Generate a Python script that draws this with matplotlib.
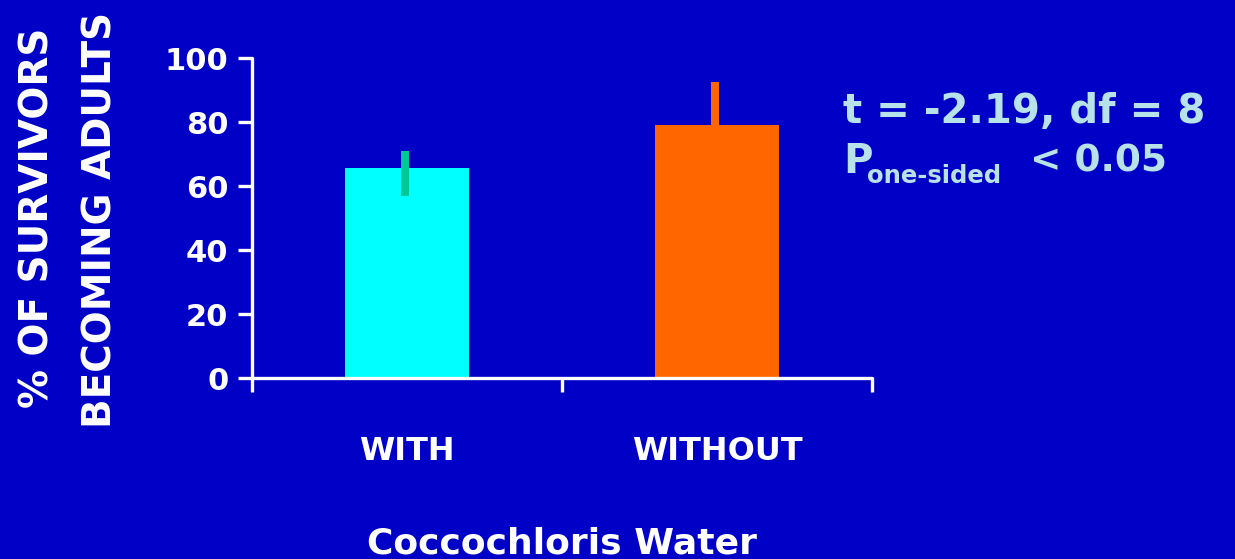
import matplotlib
matplotlib.use("Agg")
import matplotlib.pyplot as plt

# Data
categories = ["WITH", "WITHOUT"]
means = [65.5, 79.0]
err_low = [8.5, 13.5]
err_high = [5.5, 13.5]
bar_colors = ["#00ffff", "#ff6600"]
err_colors = ["#00c896", "#ff6600"]
yticks = [0, 20, 40, 60, 80, 100]

BG = "#0000c6"
FONT = "DejaVu Sans"
plt.rcParams["font.family"] = FONT
plt.rcParams["font.weight"] = "bold"

W, H = 1235, 559
fig = plt.figure(figsize=(W / 100, H / 100), dpi=100, facecolor=BG)
ax = fig.add_axes([252 / W, 1 - 378 / H, (872 - 252) / W, (378 - 58) / H])
ax.set_facecolor(BG)

x = list(range(len(categories)))
ax.bar(x, means, width=0.4, color=bar_colors, zorder=2)
for i in x:
    ax.errorbar(i - 0.008, means[i], yerr=[[err_low[i]], [err_high[i]]],
                fmt="none", ecolor=err_colors[i], elinewidth=5.8,
                capsize=0, zorder=3)

ax.set_xlim(-0.5, 1.5)
ax.set_ylim(0, 100)
ax.set_yticks(yticks)
ax.set_yticklabels([str(v) for v in yticks])
ax.set_xticks(x)
ax.set_xticklabels(categories)
ax.set_xticks([-0.5, 0.5, 1.5], minor=True)

for s in ("top", "right"):
    ax.spines[s].set_visible(False)
for s in ("left", "bottom"):
    ax.spines[s].set_color("white")
    ax.spines[s].set_linewidth(2.4)
    ax.spines[s].set_capstyle("round")

ax.tick_params(axis="y", colors="white", length=10, width=2.4, pad=7,
               labelsize=22)
ax.tick_params(axis="x", which="major", length=0, pad=42, colors="white",
               labelsize=23)
ax.tick_params(axis="x", which="minor", length=10, width=2.4, colors="white")
for lab in ax.get_xticklabels() + ax.get_yticklabels():
    lab.set_fontweight("bold")

# Axis titles
fig.text(38 / W, 1 - 218 / H, "% OF SURVIVORS", rotation=90, color="white",
         fontsize=28, fontweight="bold", ha="center", va="center")
fig.text(101 / W, 1 - 220 / H, "BECOMING ADULTS", rotation=90, color="white",
         fontsize=28, fontweight="bold", ha="center", va="center")
fig.text(562 / W, 1 - 543 / H, "Coccochloris Water", color="white",
         fontsize=26, fontweight="bold", ha="center", va="center")

# Test statistics
STAT = "#b8e2ea"
fig.text(843 / W, 1 - 112 / H, "t = -2.19, df = 8", color=STAT,
         fontsize=29, fontweight="bold", ha="left", va="center")
fig.text(843 / W, 1 - 162 / H, "P", color=STAT,
         fontsize=29, fontweight="bold", ha="left", va="center")
fig.text(867 / W, 1 - 176 / H, "one-sided", color=STAT,
         fontsize=17.5, fontweight="bold", ha="left", va="center")
fig.text(1030 / W, 1 - 162 / H, "< 0.05", color=STAT,
         fontsize=27, fontweight="bold", ha="left", va="center")

fig.savefig("out.png", dpi=100, facecolor=BG)
